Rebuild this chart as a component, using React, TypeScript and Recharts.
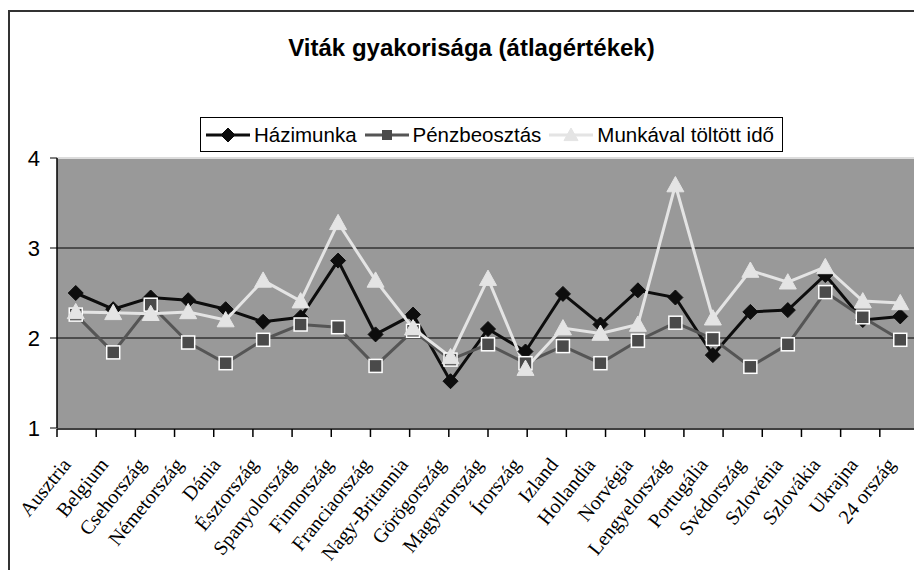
import React from 'react';
import { LineChart, Line, XAxis, YAxis, ReferenceLine, CartesianGrid } from 'recharts';

const categories = ['Ausztria', 'Belgium', 'Csehország', 'Németország', 'Dánia', 'Észtország', 'Spanyolország', 'Finnország', 'Franciaország', 'Nagy-Britannia', 'Görögország', 'Magyarország', 'Írország', 'Izland', 'Hollandia', 'Norvégia', 'Lengyelország', 'Portugália', 'Svédország', 'Szlovénia', 'Szlovákia', 'Ukrajna', '24 ország'];

const hazimunka = [2.50, 2.32, 2.45, 2.42, 2.32, 2.18, 2.23, 2.86, 2.04, 2.26, 1.52, 2.10, 1.85, 2.49, 2.15, 2.53, 2.45, 1.81, 2.29, 2.31, 2.70, 2.20, 2.24];
const penzbeosztas = [2.26, 1.84, 2.37, 1.95, 1.72, 1.98, 2.15, 2.12, 1.69, 2.08, 1.76, 1.93, 1.72, 1.91, 1.72, 1.97, 2.17, 1.99, 1.68, 1.93, 2.51, 2.23, 1.98];
const munkaval = [2.29, 2.28, 2.27, 2.29, 2.20, 2.64, 2.41, 3.28, 2.64, 2.11, 1.79, 2.66, 1.66, 2.11, 2.05, 2.15, 3.70, 2.22, 2.75, 2.62, 2.79, 2.41, 2.39];

const yTicks = [1, 2, 3, 4];
const gridValues = [2, 3];
const boundaryTicks = categories.map((_, i) => i).concat([categories.length]);

const seriesNames = ['Házimunka', 'Pénzbeosztás', 'Munkával töltött idő'];
const title = 'Viták gyakorisága (átlagértékek)';

const data = categories.map((c, i) => ({
  name: c,
  h: hazimunka[i],
  p: penzbeosztas[i],
  m: munkaval[i],
}));

const SANS = '"Liberation Sans", Arial, sans-serif';
const SERIF = '"Liberation Serif", "Times New Roman", serif';

const Diamond = ({ cx, cy, s = 7.5 }: any) => (
  <polygon points={`${cx},${cy - s} ${cx + s},${cy} ${cx},${cy + s} ${cx - s},${cy}`} fill="#0d0d0d" stroke="#0d0d0d" strokeWidth={1} />
);
const Square = ({ cx, cy, s = 6.5 }: any) => (
  <rect x={cx - s} y={cy - s} width={2 * s} height={2 * s} fill="#4a4a4a" stroke="#ffffff" strokeWidth={1.5} />
);
const Triangle = ({ cx, cy, s = 8.5 }: any) => (
  <polygon points={`${cx},${cy - s} ${cx + s},${cy + s * 0.8} ${cx - s},${cy + s * 0.8}`} fill="#e4e4e4" stroke="#e4e4e4" strokeWidth={1} />
);

const dotFn = (Shape: any) => (props: any) => {
  const { cx, cy, index } = props;
  if (cx == null || cy == null) return <g key={index} />;
  return <Shape key={index} cx={cx} cy={cy} />;
};

const XTick = (props: any) => {
  const { x, y, payload } = props;
  const ax = x - 4;
  const ay = y + 37;
  return (
    <text x={0} y={0} textAnchor="end" fontFamily={SERIF} fontSize={20} fill="#000" transform={`translate(${ax}, ${ay}) rotate(-51)`}>
      {payload.value}
    </text>
  );
};

const EmptyTick = () => <g />;

const LegendIcon = ({ kind }: { kind: number }) => (
  <svg width={46} height={20} style={{ display: 'block' }}>
    {kind === 0 && <line x1={1} y1={10} x2={45} y2={10} stroke="#0d0d0d" strokeWidth={3} />}
    {kind === 1 && <line x1={1} y1={10} x2={45} y2={10} stroke="#555555" strokeWidth={3} />}
    {kind === 2 && <line x1={1} y1={10} x2={45} y2={10} stroke="#e4e4e4" strokeWidth={3} />}
    {kind === 0 && <Diamond cx={23} cy={10} s={7} />}
    {kind === 1 && <rect x={18} y={5} width={10} height={10} fill="#4a4a4a" />}
    {kind === 2 && <Triangle cx={23} cy={10} s={7} />}
  </svg>
);

export default function App() {
  return (
    <div style={{ position: 'relative', width: 914, height: 562, overflow: 'hidden', background: '#fff' }}>
      <div style={{ position: 'absolute', left: 0, top: 2, width: 2000, height: 2000, borderTop: '2px solid #333', borderLeft: '2px solid #333' }} />
      <div style={{ position: 'absolute', left: 0, width: 927, top: 26, textAlign: 'center', fontFamily: SANS, fontWeight: 'bold', fontSize: 24, color: '#000', lineHeight: '28px' }}>
        {title}
      </div>
      <div style={{ position: 'absolute', left: 192, top: 109, width: 581, height: 33, border: '1px solid #000', display: 'flex', alignItems: 'center', fontFamily: SANS, fontSize: 20.5, color: '#000', boxSizing: 'content-box' }}>
        {seriesNames.map((n, i) => (
          <div key={n} style={{ display: 'flex', alignItems: 'center', marginLeft: i === 0 ? 4 : 7 }}>
            <LegendIcon kind={i} />
            <span style={{ marginLeft: 3, whiteSpace: 'nowrap' }}>{n}</span>
          </div>
        ))}
      </div>
      <div style={{ position: 'absolute', left: 0, top: 0 }}>
        <LineChart width={914} height={562} data={data} margin={{ top: 150, right: 2, bottom: 140, left: 0 }}>
          <CartesianGrid horizontal={false} vertical={false} fill="#999999" fillOpacity={1} stroke="none" />
          <XAxis dataKey="name" type="category" scale="band" height={1} interval={0} tickLine={false} tickSize={0} tickMargin={0} axisLine={false} tick={<XTick />} />
          <XAxis xAxisId="b" type="number" domain={[0, categories.length]} ticks={boundaryTicks} allowDataOverflow height={1} tick={<EmptyTick />} tickSize={8} tickLine={{ stroke: '#000', strokeWidth: 1.5 }} axisLine={{ stroke: '#000', strokeWidth: 1.5 }} interval={0} />
          <YAxis domain={[1, 4]} ticks={yTicks} width={49} tickSize={7} tickMargin={10} tick={{ fontSize: 22, fontFamily: SANS, fill: '#000' }} tickLine={{ stroke: '#000' }} axisLine={{ stroke: '#000', strokeWidth: 1.5 }} allowDecimals={false} />
          <YAxis yAxisId="r" orientation="right" domain={[1, 4]} width={1} tick={false} tickLine={false} axisLine={{ stroke: '#808080', strokeWidth: 1.5 }} />
          <ReferenceLine y={4} stroke="#dcdcdc" strokeWidth={2} />
          {gridValues.map((v) => (
            <ReferenceLine key={v} y={v} stroke="#000" strokeWidth={1} />
          ))}
          <Line dataKey="h" name={seriesNames[0]} stroke="#0d0d0d" strokeWidth={3} dot={dotFn(Diamond)} activeDot={false} isAnimationActive={false} />
          <Line dataKey="p" name={seriesNames[1]} stroke="#555555" strokeWidth={3} dot={dotFn(Square)} activeDot={false} isAnimationActive={false} />
          <Line dataKey="m" name={seriesNames[2]} stroke="#e4e4e4" strokeWidth={3} dot={dotFn(Triangle)} activeDot={false} isAnimationActive={false} />
        </LineChart>
      </div>
    </div>
  );
}
